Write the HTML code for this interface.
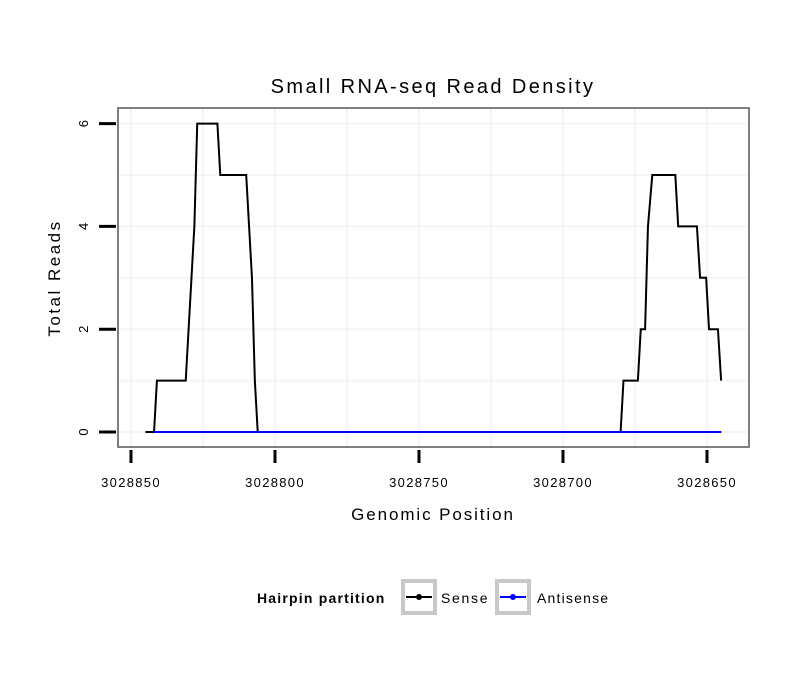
<!DOCTYPE html>
<html><head><meta charset="utf-8"><style>
body{margin:0;background:#fff;}
svg{display:block;font-family:"Liberation Sans",sans-serif;}
</style></head><body>
<svg id="chart" width="810" height="690">
<rect x="0" y="0" width="810" height="690" fill="#fff"/>
<text x="433" y="93" font-size="20" letter-spacing="2.4" text-anchor="middle">Small RNA-seq Read Density</text>
<g id="grid"></g>
<g id="series"></g>
<rect x="118" y="108" width="631" height="339" fill="none" stroke="#7f7f7f" stroke-width="2"/>
<g id="axes"></g>
<text x="433" y="520" font-size="17" letter-spacing="1.9" text-anchor="middle">Genomic Position</text>
<text x="60" y="278" font-size="17" letter-spacing="2.5" text-anchor="middle" transform="rotate(-90 60 278)">Total Reads</text>
<g>
<text x="257" y="603" font-size="14" letter-spacing="1.2" font-weight="bold">Hairpin partition</text>
<g>
<rect x="403" y="581" width="32" height="32" fill="#fff" stroke="#c8c8c8" stroke-width="4"/>
<line x1="406" y1="597" x2="432" y2="597" stroke="#000" stroke-width="2"/>
<circle cx="419" cy="597" r="3" fill="#000"/>
<text x="441" y="603" font-size="14" letter-spacing="1.7">Sense</text>
</g>
<g>
<rect x="497" y="581" width="32" height="32" fill="#fff" stroke="#c8c8c8" stroke-width="4"/>
<line x1="500" y1="597" x2="526" y2="597" stroke="#00f" stroke-width="2"/>
<circle cx="513" cy="597" r="3" fill="#00f"/>
<text x="537" y="603" font-size="14" letter-spacing="1.2">Antisense</text>
</g>
</g>
</svg>
<script>
const xTicks = [3028850, 3028800, 3028750, 3028700, 3028650];
const yTicks = [0, 2, 4, 6];
const senseX = [3028845,3028842,3028841,3028831,3028828,3028827,3028820,3028819,3028810,3028808,3028807,3028806,3028680,3028679,3028674,3028673,3028671.5,3028670.5,3028669,3028661,3028660,3028653.5,3028652.4,3028650.3,3028649.3,3028646.2,3028645.1];
const senseY = [0,0,1,1,4,6,6,5,5,3,1,0,0,1,1,2,2,4,5,5,4,4,3,3,2,2,1];
const antisenseX = [3028842, 3028645];
const antisenseY = [0, 0];

const NS = "http://www.w3.org/2000/svg";
function xs(v){ return 131 + (3028850 - v) * 2.88; }
function ys(v){ return 432 - v * 51.4; }
function mk(tag, attrs, parent){ const e=document.createElementNS(NS,tag); for(const k in attrs) e.setAttribute(k,attrs[k]); parent.appendChild(e); return e; }

const grid=document.getElementById('grid'), axes=document.getElementById('axes'), series=document.getElementById('series');
const xg=[]; for(let i=0;i<xTicks.length;i++){ xg.push(xTicks[i]); if(i<xTicks.length-1) xg.push((xTicks[i]+xTicks[i+1])/2); }
xg.forEach(v=>{ const l=mk('line',{x1:xs(v),x2:xs(v),y1:108,y2:447,stroke:'#f5f5f5','stroke-width':2},grid);

 });
const yg=[]; for(let i=0;i<yTicks.length;i++){ yg.push(yTicks[i]); if(i<yTicks.length-1) yg.push((yTicks[i]+yTicks[i+1])/2); }
yg.forEach(v=>{ const l=mk('line',{x1:118,x2:749,y1:ys(v),y2:ys(v),stroke:'#f5f5f5','stroke-width':2},grid);

 });

xTicks.forEach(v=>{
  const t=mk('line',{x1:xs(v),x2:xs(v),y1:450,y2:463,stroke:'#000','stroke-width':3},axes);
  
  
  const tx=mk('text',{x:xs(v),y:487,'font-size':13,'letter-spacing':1.3,'text-anchor':'middle'},axes);
  tx.textContent=v;
  
  
});
yTicks.forEach(v=>{
  const t=mk('line',{x1:99,x2:116,y1:ys(v),y2:ys(v),stroke:'#000','stroke-width':3},axes);
  
  
  const tx=mk('text',{x:88,y:ys(v),'font-size':13,'text-anchor':'middle',transform:'rotate(-90 88 '+ys(v)+')'},axes);
  tx.textContent=v;
  
  
});

function line(X,Y,color,name){
  const p=mk('polyline',{points:X.map((x,i)=>xs(x)+','+ys(Y[i])).join(' '),fill:'none',stroke:color,'stroke-width':2},series);
  
  
}
line(senseX,senseY,'#000','sense-line');
line(antisenseX,antisenseY,'#00f','antisense-line');
</script>
</body></html>
